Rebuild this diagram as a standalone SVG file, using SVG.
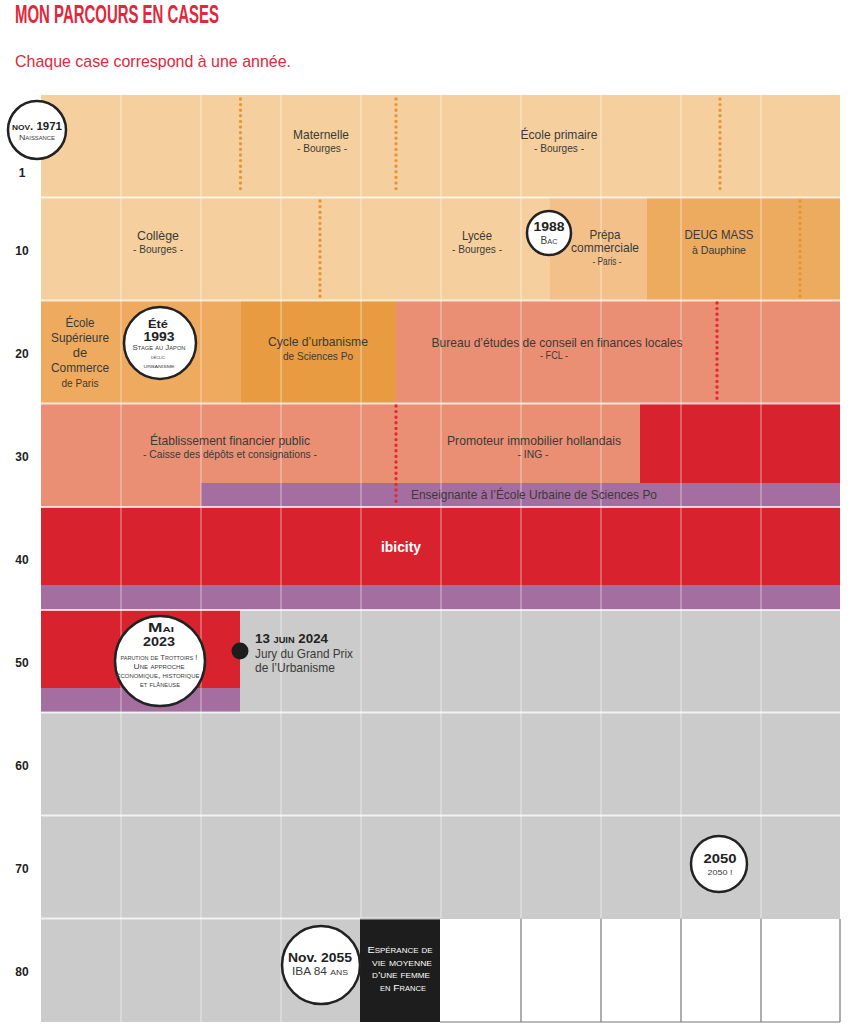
<svg xmlns="http://www.w3.org/2000/svg" width="851" height="1024" viewBox="0 0 851 1024">
<defs>
<style>
text{font-family:"Liberation Sans",Arial,sans-serif;fill:#3a3a3a;text-anchor:middle}
.t{font-size:13px}
.s{font-size:10.5px}
.b{font-weight:bold}
.sc{font-variant:small-caps}
.lab{font-size:12px;font-weight:bold;fill:#222}
.red{fill:#e0283a}
.grid{stroke:#fff;stroke-opacity:.55;stroke-width:1}
.hgrid{stroke:#fff;stroke-opacity:.75;stroke-width:2}
.circ{fill:#fff;stroke:#222;stroke-width:2.5}
.dotO{stroke:#e8943a;stroke-width:3.4;stroke-linecap:round;stroke-dasharray:0 5.6;fill:none}
.dotR{stroke:#e02a35;stroke-width:3.4;stroke-linecap:round;stroke-dasharray:0 5.6;fill:none}
</style>
</defs>
<rect width="851" height="1024" fill="#fff"/>
<text x="15" y="23" class="b red" style="font-size:25px;text-anchor:start" textLength="204" lengthAdjust="spacingAndGlyphs">MON PARCOURS EN CASES</text>
<text x="15" y="67" class="red" style="font-size:17px;text-anchor:start" textLength="276" lengthAdjust="spacingAndGlyphs">Chaque case correspond à une année.</text>

<g id="fills">
<rect x="41" y="95" width="799" height="103" fill="#f5d09e"/>
<rect x="41" y="197" width="509" height="104" fill="#f5d09e"/>
<rect x="550" y="197" width="97" height="104" fill="#f3c08a"/>
<rect x="647" y="197" width="193" height="104" fill="#edab60"/>
<rect x="41" y="300" width="200" height="104" fill="#eeaa5e"/>
<rect x="241" y="300" width="155" height="104" fill="#e89b40"/>
<rect x="396" y="300" width="444" height="104" fill="#ea8f73"/>
<rect x="41" y="403" width="599" height="104" fill="#ea8f73"/>
<rect x="640" y="403" width="200" height="80" fill="#d8232f"/>
<rect x="201" y="483" width="639" height="24" fill="#a56ea0"/>
<rect x="41" y="507" width="799" height="78" fill="#d8232f"/>
<rect x="41" y="585" width="799" height="25" fill="#a56ea0"/>
<rect x="41" y="610" width="199" height="78" fill="#d8232f"/>
<rect x="41" y="688" width="199" height="24.5" fill="#a56ea0"/>
<rect x="240" y="610" width="600" height="103" fill="#cbcbcb"/>
<rect x="41" y="712" width="799" height="207" fill="#cbcbcb"/>
<rect x="41" y="918" width="319" height="104" fill="#cbcbcb"/>
<rect x="360" y="918" width="80" height="104" fill="#1d1d1d"/>
</g>

<g id="connectors">
<g class="grid">
<line x1="121" y1="95" x2="121" y2="1022"/>
<line x1="201" y1="95" x2="201" y2="1022"/>
<line x1="281" y1="95" x2="281" y2="1022"/>
<line x1="361" y1="95" x2="361" y2="918"/>
<line x1="441" y1="95" x2="441" y2="918"/>
<line x1="521" y1="95" x2="521" y2="918"/>
<line x1="601" y1="95" x2="601" y2="918"/>
<line x1="681" y1="95" x2="681" y2="918"/>
<line x1="761" y1="95" x2="761" y2="918"/>
</g>
<g class="hgrid">
<line x1="41" y1="197.5" x2="840" y2="197.5"/>
<line x1="41" y1="300.5" x2="840" y2="300.5"/>
<line x1="41" y1="403.5" x2="840" y2="403.5"/>
<line x1="41" y1="507" x2="840" y2="507"/>
<line x1="41" y1="610" x2="840" y2="610"/>
<line x1="41" y1="712.5" x2="840" y2="712.5"/>
<line x1="41" y1="815.5" x2="840" y2="815.5"/>
<line x1="41" y1="918.5" x2="440" y2="918.5"/>
</g>
<g stroke="#777" stroke-width="1.2" fill="none">
<line x1="521" y1="919" x2="521" y2="1022"/>
<line x1="601" y1="919" x2="601" y2="1022"/>
<line x1="681" y1="919" x2="681" y2="1022"/>
<line x1="761" y1="919" x2="761" y2="1022"/>
<line x1="840" y1="919" x2="840" y2="1022"/>
<line x1="440" y1="1022" x2="840" y2="1022"/>
</g>
<line class="dotO" x1="240.5" y1="99" x2="240.5" y2="193"/>
<line class="dotO" x1="396" y1="99" x2="396" y2="193"/>
<line class="dotO" x1="720" y1="99" x2="720" y2="193"/>
<line class="dotO" x1="320" y1="201" x2="320" y2="297"/>
<line class="dotO" x1="800" y1="201" x2="800" y2="297"/>
<line class="dotR" x1="717" y1="303" x2="717" y2="399"/>
<line class="dotR" x1="396" y1="406" x2="396" y2="505"/>
</g>

<g id="row-labels">
<text class="lab" x="22" y="177">1</text>
<text class="lab" x="22" y="255">10</text>
<text class="lab" x="22" y="358">20</text>
<text class="lab" x="22" y="461">30</text>
<text class="lab" x="22" y="564">40</text>
<text class="lab" x="22" y="667">50</text>
<text class="lab" x="22" y="770">60</text>
<text class="lab" x="22" y="873">70</text>
<text class="lab" x="22" y="976">80</text>
</g>

<g id="maternelle">
<text class="t" x="321" y="139" textLength="56" lengthAdjust="spacingAndGlyphs">Maternelle</text>
<text class="s" x="322" y="152" textLength="50" lengthAdjust="spacingAndGlyphs">- Bourges -</text>
</g>
<g id="primaire">
<text class="t" x="559" y="139" textLength="77" lengthAdjust="spacingAndGlyphs">École primaire</text>
<text class="s" x="559" y="152" textLength="50" lengthAdjust="spacingAndGlyphs">- Bourges -</text>
</g>
<g id="college">
<text class="t" x="158" y="240" textLength="42" lengthAdjust="spacingAndGlyphs">Collège</text>
<text class="s" x="158" y="253" textLength="50" lengthAdjust="spacingAndGlyphs">- Bourges -</text>
</g>
<g id="lycee">
<text class="t" x="477" y="240" textLength="30" lengthAdjust="spacingAndGlyphs">Lycée</text>
<text class="s" x="477" y="253" textLength="50" lengthAdjust="spacingAndGlyphs">- Bourges -</text>
</g>
<g id="prepa">
<text class="t" x="605" y="239" textLength="31" lengthAdjust="spacingAndGlyphs">Prépa</text>
<text class="t" x="605" y="252" textLength="68" lengthAdjust="spacingAndGlyphs">commerciale</text>
<text class="s" x="607" y="265" textLength="29" lengthAdjust="spacingAndGlyphs">- Paris -</text>
</g>
<g id="deug">
<text class="t" x="719" y="239" textLength="69" lengthAdjust="spacingAndGlyphs">DEUG MASS</text>
<text class="s" x="719" y="254" textLength="54" lengthAdjust="spacingAndGlyphs">à Dauphine</text>
</g>
<g id="escp">
<text class="t" x="80" y="327" textLength="29" lengthAdjust="spacingAndGlyphs">École</text>
<text class="t" x="80" y="342" textLength="58" lengthAdjust="spacingAndGlyphs">Supérieure</text>
<text class="t" x="80" y="357">de</text>
<text class="t" x="80" y="372" textLength="58" lengthAdjust="spacingAndGlyphs">Commerce</text>
<text class="s" x="80" y="387" style="font-size:11.5px" textLength="37" lengthAdjust="spacingAndGlyphs">de Paris</text>
</g>
<g id="urbanisme">
<text class="t" x="318" y="346" textLength="100" lengthAdjust="spacingAndGlyphs">Cycle d’urbanisme</text>
<text class="s" x="318" y="360" textLength="70" lengthAdjust="spacingAndGlyphs">de Sciences Po</text>
</g>
<g id="fcl">
<text class="t" x="557" y="347" textLength="251" lengthAdjust="spacingAndGlyphs">Bureau d’études de conseil en finances locales</text>
<text class="s" x="554" y="359" textLength="28" lengthAdjust="spacingAndGlyphs">- FCL -</text>
</g>
<g id="cdc">
<text class="t" x="230" y="445" textLength="160" lengthAdjust="spacingAndGlyphs">Établissement financier public</text>
<text class="s" x="230" y="458" textLength="174" lengthAdjust="spacingAndGlyphs">- Caisse des dépôts et consignations -</text>
</g>
<g id="ing">
<text class="t" x="534" y="445" textLength="174" lengthAdjust="spacingAndGlyphs">Promoteur immobilier hollandais</text>
<text class="s" x="533" y="458" textLength="31" lengthAdjust="spacingAndGlyphs">- ING -</text>
</g>
<g id="enseignante">
<text class="t" x="534" y="499" textLength="246" lengthAdjust="spacingAndGlyphs">Enseignante à l’École Urbaine de Sciences Po</text>
</g>
<g id="ibicity">
<text class="t b" x="401" y="552" style="fill:#fff;font-size:14px" textLength="40" lengthAdjust="spacingAndGlyphs">ibicity</text>
</g>

<g id="naissance">
<circle class="circ" cx="37" cy="130" r="29"/>
<text class="b sc" x="37" y="130" style="font-size:11px;fill:#222" textLength="50" lengthAdjust="spacingAndGlyphs">nov. 1971</text>
<text class="sc" x="37" y="140" style="font-size:7.5px" textLength="36" lengthAdjust="spacingAndGlyphs">Naissance</text>
</g>
<g id="bac">
<circle class="circ" cx="549" cy="233" r="22"/>
<text class="b" x="549" y="231" style="font-size:12px;fill:#222" textLength="31" lengthAdjust="spacingAndGlyphs">1988</text>
<text class="sc" x="549" y="244" style="font-size:11px" textLength="17" lengthAdjust="spacingAndGlyphs">Bac</text>
</g>
<g id="japon">
<circle class="circ" cx="160" cy="343" r="36"/>
<text class="b" x="158" y="328" style="font-size:11px;fill:#222" textLength="20" lengthAdjust="spacingAndGlyphs">Été</text>
<text class="b" x="159" y="341" style="font-size:13px;fill:#222" textLength="31" lengthAdjust="spacingAndGlyphs">1993</text>
<text class="sc" x="159" y="350" style="font-size:7px" textLength="53" lengthAdjust="spacingAndGlyphs">Stage au Japon</text>
<text class="sc" x="158" y="359" style="font-size:6px" textLength="14" lengthAdjust="spacingAndGlyphs">déclic</text>
<text class="sc" x="159" y="368" style="font-size:6px" textLength="31" lengthAdjust="spacingAndGlyphs">urbanisme</text>
</g>
<g id="trottoirs">
<circle class="circ" cx="160" cy="661" r="45"/>
<text class="b sc" x="161" y="632" style="font-size:12px;fill:#222" textLength="26" lengthAdjust="spacingAndGlyphs">Mai</text>
<text class="b" x="159" y="646" style="font-size:13px;fill:#222" textLength="32" lengthAdjust="spacingAndGlyphs">2023</text>
<text class="sc" x="159" y="660" style="font-size:7px" textLength="77" lengthAdjust="spacingAndGlyphs">parution de Trottoirs !</text>
<text class="sc" x="159" y="669" style="font-size:7px" textLength="51" lengthAdjust="spacingAndGlyphs">Une approche</text>
<text class="sc" x="158" y="678" style="font-size:7px" textLength="83" lengthAdjust="spacingAndGlyphs">économique, historique</text>
<text class="sc" x="160" y="687" style="font-size:7px" textLength="40" lengthAdjust="spacingAndGlyphs">et flâneuse</text>
</g>
<g id="jury">
<circle cx="240" cy="651" r="8.5" fill="#1d1d1d"/>
<text class="b sc" x="255" y="643" style="font-size:13px;fill:#222;text-anchor:start" textLength="73" lengthAdjust="spacingAndGlyphs">13 juin 2024</text>
<text class="t" x="255" y="658" style="text-anchor:start" textLength="98" lengthAdjust="spacingAndGlyphs">Jury du Grand Prix</text>
<text class="t" x="255" y="672" style="text-anchor:start" textLength="80" lengthAdjust="spacingAndGlyphs">de l’Urbanisme</text>
</g>
<g id="an2050">
<circle class="circ" cx="719" cy="864" r="28"/>
<text class="b" x="720" y="863" style="font-size:12px;fill:#222" textLength="33" lengthAdjust="spacingAndGlyphs">2050</text>
<text x="720" y="875" style="font-size:8px" textLength="25" lengthAdjust="spacingAndGlyphs">2050 !</text>
</g>
<g id="an2055">
<circle class="circ" cx="321" cy="965" r="39"/>
<text class="b" x="320" y="962" style="font-size:12.5px;fill:#222" textLength="64" lengthAdjust="spacingAndGlyphs">Nov. 2055</text>
<text class="sc" x="320" y="975" style="font-size:11px" textLength="56" lengthAdjust="spacingAndGlyphs">IBA 84 ans</text>
</g>
<g id="esperance">
<text class="sc" x="400" y="953" style="font-size:9.5px;fill:#fff" textLength="65" lengthAdjust="spacingAndGlyphs">Espérance de</text>
<text class="sc" x="402" y="966" style="font-size:9.5px;fill:#fff" textLength="60" lengthAdjust="spacingAndGlyphs">vie moyenne</text>
<text class="sc" x="401" y="978" style="font-size:9.5px;fill:#fff" textLength="58" lengthAdjust="spacingAndGlyphs">d’une femme</text>
<text class="sc" x="403" y="991" style="font-size:9.5px;fill:#fff" textLength="46" lengthAdjust="spacingAndGlyphs">en France</text>
</g>
</svg>
